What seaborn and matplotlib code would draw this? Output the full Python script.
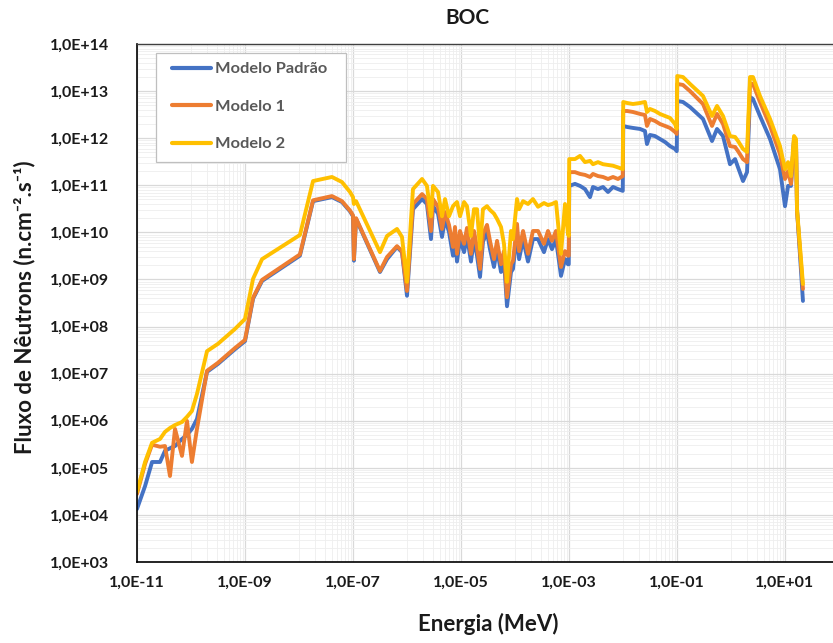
import numpy as np
import pandas as pd
import matplotlib
matplotlib.use("Agg")
import matplotlib.pyplot as plt
from matplotlib.patches import Rectangle
import seaborn as sns
from matplotlib.ticker import FixedLocator, NullFormatter, LogLocator

# ---------------- data ----------------
# common energy grid (MeV)
energy = [
    # thermal / low epithermal
    1.0e-11, 1.41e-11, 1.90e-11, 2.67e-11, 3.30e-11, 4.08e-11, 5.06e-11, 6.81e-11,
    8.43e-11, 1.04e-10, 1.29e-10, 1.98e-10, 3.16e-10, 6.53e-10, 1.0e-9, 1.41e-9, 2.07e-9,
    # 1e-8 .. 1e-6
    1.04e-8, 1.82e-8, 4.08e-8, 6.25e-8, 8.8e-8, 1.0e-7, 1.04e-7, 1.14e-7, 3.16e-7,
    4.27e-7, 6.53e-7, 8.07e-7, 1.0e-6,
    # resonance region
    1.29e-6, 1.90e-6, 2.34e-6, 2.78e-6, 3.03e-6, 3.75e-6, 4.45e-6, 5.06e-6, 6.00e-6,
    7.11e-6, 7.74e-6, 8.43e-6, 9.58e-6, 1.14e-5, 1.29e-5, 1.53e-5, 1.74e-5, 1.98e-5,
    2.25e-5, 2.55e-5, 3.03e-5, 3.44e-5, 4.08e-5, 4.65e-5, 5.51e-5, 6.25e-5, 7.11e-5,
    8.43e-5, 9.18e-5, 1.09e-4, 1.19e-4, 1.41e-4, 1.74e-4, 2.15e-4, 2.67e-4, 3.44e-4,
    4.08e-4, 4.84e-4, 5.74e-4, 7.11e-4, 8.43e-4, 9.58e-4, 9.9e-4,
    # 1e-3 .. 1e-2
    1.01e-3, 1.29e-3, 1.60e-3, 1.98e-3, 2.45e-3, 2.78e-3, 3.44e-3, 4.27e-3, 5.28e-3,
    6.53e-3, 8.07e-3, 9.9e-3,
    # 1e-2 .. 1e-1
    1.01e-2, 1.19e-2, 1.53e-2, 2.07e-2, 2.55e-2, 2.78e-2, 3.16e-2, 3.91e-2, 4.84e-2,
    6.00e-2, 7.42e-2, 9.18e-2, 9.9e-2,
    # fast region
    0.101, 0.129, 0.174, 0.303, 0.445, 0.551, 0.711, 0.958, 1.19, 1.35, 1.67, 1.98,
    2.25, 2.55, 3.44, 5.28, 8.07, 10.0, 11.4, 12.9, 14.7, 16.0, 16.7, 21.5,
]

flux_padrao = [
    1.34e4, 4.1e4, 1.33e5, 1.33e5, 2.3e5, 2.6e5, 2.9e5, 4.1e5,
    5.0e5, 6.7e5, 1.09e6, 1.09e7, 1.61e7, 3.3e7, 4.9e7, 3.9e8, 9.3e8,
    3.2e9, 4.6e10, 5.6e10, 4.4e10, 2.8e10, 2.2e10, 2.5e9, 1.93e10, 1.44e9,
    2.7e9, 4.9e9, 3.8e9, 4.5e8,
    3.1e10, 5.1e10, 4.0e10, 7.2e9, 3.6e10, 2.5e10, 8.0e9, 1.93e10, 1.02e10,
    3.2e9, 8.4e9, 2.4e9, 7.2e9, 3.8e9, 8.4e9, 2.4e9, 7.2e9, 3.2e9,
    1.13e9, 6.3e9, 1.02e10, 4.4e9, 1.84e9, 4.4e9, 1.44e9, 2.7e9, 2.7e8,
    1.44e9, 1.67e9, 1.02e10, 2.7e9, 7.2e9, 2.4e9, 7.2e9, 7.2e9, 3.8e9,
    7.2e9, 4.4e9, 7.2e9, 1.19e9, 2.7e9, 2.1e9, 2.1e9,
    9.7e10, 1.07e11, 9.7e10, 8.3e10, 5.6e10, 9.2e10, 8.3e10, 9.2e10, 7.2e10,
    9.2e10, 8.3e10, 7.6e10,
    1.82e12, 1.73e12, 1.65e12, 1.57e12, 1.42e12, 7.5e11, 1.17e12, 1.11e12, 9.6e11,
    8.3e11, 6.8e11, 5.9e11, 5.3e11,
    6.17e12, 5.87e12, 4.59e12, 2.56e12, 8.7e11, 1.57e12, 1.11e12, 2.8e11, 3.6e11, 2.4e11, 1.23e11, 1.9e11,
    7.5e12, 6.8e12, 2.96e12, 9.6e11, 2.2e11, 3.6e10, 9.7e10, 9.7e10, 9.6e11, 7.5e11, 3.1e10, 3.5e8,
]

flux_modelo1 = [
    2.8e4, 1.21e5, 3.1e5, 2.8e5, 2.9e5, 6.7e4, 6.7e5, 1.79e5,
    9.9e5, 1.33e5, 6.7e5, 1.15e7, 1.7e7, 3.5e7, 5.2e7, 4.1e8, 9.8e8,
    3.4e9, 4.8e10, 5.9e10, 4.6e10, 2.9e10, 2.3e10, 2.7e9, 2.0e10, 1.51e9,
    3.0e9, 5.1e9, 4.0e9, 5.7e8,
    4.0e10, 6.5e10, 5.1e10, 1.07e10, 5.1e10, 3.5e10, 1.18e10, 2.7e10, 1.44e10,
    4.9e9, 1.30e10, 3.5e9, 1.07e10, 5.7e9, 1.24e10, 3.5e9, 1.07e10, 4.7e9,
    1.67e9, 9.2e9, 1.44e10, 6.6e9, 2.7e9, 6.6e9, 2.1e9, 4.0e9, 4.2e8,
    2.1e9, 2.5e9, 1.51e10, 4.0e9, 1.07e10, 3.5e9, 1.07e10, 1.07e10, 5.7e9,
    1.07e10, 6.6e9, 1.07e10, 1.84e9, 4.0e9, 3.2e9, 3.2e9,
    1.9e11, 1.9e11, 1.74e11, 1.66e11, 1.50e11, 1.74e11, 1.57e11, 1.50e11, 1.36e11,
    1.50e11, 1.36e11, 1.57e11,
    3.78e12, 3.78e12, 3.60e12, 3.27e12, 3.11e12, 1.82e12, 2.56e12, 2.32e12, 2.00e12,
    1.82e12, 1.65e12, 1.36e12, 1.23e12,
    1.42e13, 1.35e13, 1.00e13, 5.32e12, 1.82e12, 3.27e12, 2.00e12, 6.8e11, 6.5e11, 5.3e11, 3.6e11, 3.1e11,
    1.42e13, 1.42e13, 5.87e12, 1.82e12, 4.6e11, 1.36e11, 2.0e11, 1.07e11, 9.6e11, 7.5e11, 2.8e10, 6.3e8,
]

flux_modelo2 = [
    3.1e4, 1.33e5, 3.4e5, 4.1e5, 5.8e5, 7.0e5, 8.1e5, 9.4e5,
    1.21e6, 1.61e6, 3.7e6, 3.0e7, 4.3e7, 8.9e7, 1.45e8, 1.03e9, 2.7e9,
    8.8e9, 1.23e11, 1.50e11, 1.17e11, 7.2e10, 5.6e10, 4.0e10, 4.6e10, 3.8e9,
    8.4e9, 1.18e10, 8.0e9, 8.9e8,
    8.3e10, 1.36e11, 9.7e10, 2.2e10, 9.7e10, 7.2e10, 2.2e10, 5.1e10, 2.2e10,
    3.6e10, 4.0e10, 4.4e10, 2.2e10, 4.4e10, 3.6e10, 8.4e9, 3.1e10, 3.1e10,
    4.4e9, 3.1e10, 3.6e10, 3.0e10, 2.5e10, 1.93e10, 1.30e10, 5.7e9, 8.9e8,
    1.07e10, 7.2e9, 5.1e10, 3.1e10, 4.6e10, 4.0e10, 5.1e10, 3.5e10, 4.2e10,
    3.8e10, 4.0e10, 4.4e10, 3.5e9, 4.0e10, 9.2e9, 8.4e9,
    3.6e11, 3.6e11, 4.2e11, 3.1e11, 3.3e11, 2.8e11, 3.1e11, 2.8e11, 2.7e11,
    2.6e11, 2.4e11, 2.2e11,
    5.87e12, 5.59e12, 5.32e12, 5.59e12, 5.87e12, 3.60e12, 4.17e12, 3.78e12, 3.27e12,
    2.96e12, 2.69e12, 2.00e12, 1.57e12,
    2.09e13, 1.99e13, 1.42e13, 7.87e12, 2.96e12, 4.83e12, 2.96e12, 1.11e12, 1.06e12, 8.7e11, 5.9e11, 5.1e11,
    1.99e13, 1.99e13, 7.87e12, 2.56e12, 6.8e11, 2.2e11, 3.1e11, 1.57e11, 1.11e12, 9.6e11, 3.1e10, 8.0e8,
]

series_names = ["Modelo Padrão", "Modelo 1", "Modelo 2"]
series_colors = ["#4472C4", "#ED7D31", "#FFC000"]

x_tick_values = [1e-11, 1e-9, 1e-7, 1e-5, 1e-3, 1e-1, 1e1]
x_tick_labels = ["1,0E-11", "1,0E-09", "1,0E-07", "1,0E-05", "1,0E-03", "1,0E-01", "1,0E+01"]
y_tick_values = [1e3, 1e4, 1e5, 1e6, 1e7, 1e8, 1e9, 1e10, 1e11, 1e12, 1e13, 1e14]
y_tick_labels = ["1,0E+03", "1,0E+04", "1,0E+05", "1,0E+06", "1,0E+07", "1,0E+08",
                 "1,0E+09", "1,0E+10", "1,0E+11", "1,0E+12", "1,0E+13", "1,0E+14"]

title_text = "BOC"
x_label = "Energia (MeV)"
y_label = "Fluxo de Nêutrons (n.cm⁻².s⁻¹)"

# ---------------- build long table ----------------
df = pd.concat([
    pd.DataFrame({"Energia": energy, "Fluxo": flux_padrao, "Modelo": series_names[0]}),
    pd.DataFrame({"Energia": energy, "Fluxo": flux_modelo1, "Modelo": series_names[1]}),
    pd.DataFrame({"Energia": energy, "Fluxo": flux_modelo2, "Modelo": series_names[2]}),
], ignore_index=True)

sns.set_style("white")
plt.rcParams["font.family"] = ["Lato", "DejaVu Sans"]

W, H = 833, 643
fig = plt.figure(figsize=(W / 100, H / 100), dpi=100)
ax_left, ax_right, ax_top, ax_bottom = 137, 839, 44, 562
ax = fig.add_axes([ax_left / W, 1 - ax_bottom / H, (ax_right - ax_left) / W, (ax_bottom - ax_top) / H])

ax.set_xscale("log")
ax.set_yscale("log")

sns.lineplot(data=df, x="Energia", y="Fluxo", hue="Modelo", hue_order=series_names,
             palette=series_colors, estimator=None, sort=False, linewidth=2.8,
             solid_capstyle="round", solid_joinstyle="round", ax=ax)

ax.set_xlim(1e-11, 1e2)
ax.set_ylim(1e3, 1e14)

ax.set_xticks(x_tick_values)
ax.set_xticklabels(x_tick_labels)
ax.set_yticks(y_tick_values)
ax.set_yticklabels(y_tick_labels)

x_minor = [m * k for m in x_tick_values for k in range(10, 100, 10) if m * k <= 1e2]
ax.xaxis.set_minor_locator(FixedLocator(x_minor))
ax.xaxis.set_minor_formatter(NullFormatter())
ax.yaxis.set_minor_locator(LogLocator(base=10, subs=np.arange(2, 10), numticks=200))
ax.yaxis.set_minor_formatter(NullFormatter())

ax.tick_params(axis="both", which="major", direction="in", length=5, width=0.9, color="black")
ax.tick_params(axis="both", which="minor", direction="in", length=3, width=0.7, color="black")
ax.tick_params(axis="x", which="major", pad=10, labelsize=11.5)
ax.tick_params(axis="y", which="major", pad=20, labelsize=11.5)
for lbl in ax.get_xticklabels() + ax.get_yticklabels():
    lbl.set_fontweight("bold")
    lbl.set_color("#1a1a1a")

ax.set_axisbelow(True)
ax.grid(True, which="major", color="#d9d9d9", linewidth=0.9)
ax.grid(True, which="minor", color="#eeeeee", linewidth=0.6)

for side in ["left", "bottom"]:
    ax.spines[side].set_color("black")
    ax.spines[side].set_linewidth(1.2)
ax.spines["top"].set_color("#404040")
ax.spines["top"].set_linewidth(1.0)
ax.spines["right"].set_visible(False)

ax.set_xlabel("")
ax.set_ylabel("")

fig.text(467 / W, 1 - 18 / H, title_text, ha="center", va="center",
         fontsize=15, fontweight="bold", color="#1a1a1a")
fig.text(488 / W, 1 - 624 / H, x_label, ha="center", va="center",
         fontsize=16, fontweight="bold", color="#1a1a1a")
fig.text(25 / W, 1 - 307 / H, y_label, ha="center", va="center", rotation=90,
         fontsize=16, fontweight="bold", color="#1a1a1a")

# legend box (as in the reference) and legend entries
ax.add_patch(Rectangle((156 / W, 1 - 162 / H), (346 - 156) / W, (162 - 53) / H,
                       transform=fig.transFigure, facecolor="white", clip_on=False,
                       edgecolor="#bfbfbf", linewidth=0.9, zorder=5))
handles, labels = ax.get_legend_handles_labels()
leg = ax.legend(handles, labels, loc="upper left", bbox_to_anchor=(172 / W, 1 - 62 / H),
                bbox_transform=fig.transFigure, borderaxespad=0, borderpad=0, frameon=False,
                handlelength=2.4, handletextpad=0.25, labelspacing=1.4,
                prop={"weight": "bold", "size": 11.8})
leg.set_zorder(10)
for t in leg.get_texts():
    t.set_color("#595959")
for h in leg.get_lines():
    h.set_linewidth(3.0)

fig.savefig("out.png", dpi=100)
